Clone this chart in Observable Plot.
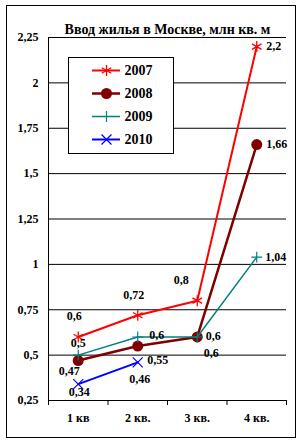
<!DOCTYPE html>
<html><head><meta charset="utf-8">
<script src="https://cdn.jsdelivr.net/npm/d3@7"></script>
<script src="https://cdn.jsdelivr.net/npm/@observablehq/plot@0.6"></script>
<style>
html,body{margin:0;padding:0;background:#fff;}
#wrap{position:relative;width:301px;height:446px;overflow:hidden;background:#fff;}
#border{position:absolute;left:6px;top:5px;width:290px;height:433px;border:1px solid #000;box-sizing:border-box;pointer-events:none;}
#legend{position:absolute;left:68px;top:57px;width:106px;height:97px;border:1px solid #000;box-sizing:border-box;background:#fff;}
svg{display:block;}
svg text{font-family:'Liberation Serif','Times New Roman',serif !important;}
</style></head>
<body><div id="wrap"><div id="chart"></div><div id="legend"></div><div id="border"></div></div>
<script>
const title = "Ввод жилья в Москве, млн кв. м";
const categories = ["1 кв", "2 кв.", "3 кв.", "4 кв."];
const years = ["2007", "2008", "2009", "2010"];
const v2007 = [0.6, 0.72, 0.8, 2.2];
const v2008 = [0.47, 0.55, 0.6, 1.66];
const v2009 = [0.5, 0.6, 0.6, 1.04];
const v2010 = [0.34, 0.46];
const yTicks = [0.25, 0.5, 0.75, 1, 1.25, 1.5, 1.75, 2, 2.25];

const fmt = d => String(d).replace(".", ",");
const FONT = "'Liberation Serif', 'Times New Roman', serif";

const styles = {
  "2007": {values: v2007, color: "#ff0000", width: 2, symbol: "asterisk", r: 5.2, sw: 1.3, fill: "none"},
  "2008": {values: v2008, color: "#800000", width: 2.5, symbol: "circle", r: 5.5, sw: 0, fill: "#800000"},
  "2009": {values: v2009, color: "#008080", width: 1.5, symbol: "plus", r: 3.6, sw: 1.2, fill: "none"},
  "2010": {values: v2010, color: "#0000ff", width: 2, symbol: "times", r: 4.6, sw: 1.2, fill: "none"}
};
// label offsets (layout only)
const labelOffsets = {
  "2007": [[-4, -21], [-4, -20], [-16, -21], [17, 0]],
  "2008": [[-9, 11], [20, 14], [14, 16], [20, 0]],
  "2009": [[0, -12], [19, -2], [16, -1], [19, 0]],
  "2010": [[1, 8], [2, 17]]
};

const rowsFor = y => styles[y].values.map((v, i) => ({year: y, q: i + 0.5, cat: categories[i], value: v}));
const T = {fontSize: 12, fontWeight: "bold", fill: "#000", fontFamily: FONT};

const marks = [];
marks.push(Plot.ruleY(yTicks, {stroke: "#000", strokeWidth: 1}));
marks.push(Plot.ruleX([0], {stroke: "#000", strokeWidth: 1}));
marks.push(Plot.text(yTicks, {x: 0, y: d => d, text: fmt, textAnchor: "end", dx: -10, ...T}));
marks.push(Plot.text(categories, {x: (d, i) => i + 0.5, y: 0.25, text: d => d, dy: 18, ...T}));
marks.push(Plot.text([title], {frameAnchor: "top", text: d => d, dx: 0, dy: -13.5, ...T, fontSize: 14}));
for (const y of years) {
  const s = styles[y];
  const rows = rowsFor(y);
  marks.push(Plot.line(rows, {x: "q", y: "value", stroke: s.color, strokeWidth: s.width}));
  marks.push(Plot.dot(rows, {x: "q", y: "value", symbol: s.symbol, r: s.r, stroke: s.sw ? s.color : "none", strokeWidth: s.sw, fill: s.fill}));
}
for (const y of years) {
  rowsFor(y).forEach((row, i) => {
    const [dx, dy] = labelOffsets[y][i];
    marks.push(Plot.text([row], {x: "q", y: "value", text: d => fmt(d.value), dx, dy, ...T}));
  });
}

const chart = Plot.plot({
  width: 301, height: 446,
  marginTop: 37, marginBottom: 46, marginLeft: 48, marginRight: 15,
  style: {fontFamily: FONT, fontWeight: "bold", fontSize: "12px", background: "transparent", overflow: "visible"},
  x: {type: "linear", domain: [0, 4], ticks: [0, 1, 2, 3, 4], tickFormat: () => "", tickSize: 5, line: false, label: null},
  y: {domain: [0.25, 2.25], axis: null},
  marks
});
document.getElementById("chart").appendChild(chart);

// legend
const legendMarks = [];
for (const y of years) {
  const s = styles[y];
  legendMarks.push(Plot.ruleY([y], {y: d => d, x1: 23, x2: 51, stroke: s.color, strokeWidth: s.width}));
  legendMarks.push(Plot.dot([y], {x: 37, y: d => d, symbol: s.symbol, r: s.r, stroke: s.sw ? s.color : "none", strokeWidth: s.sw, fill: s.fill}));
  legendMarks.push(Plot.text([y], {x: 55, y: d => d, text: d => d, textAnchor: "start", ...T, fontSize: 14}));
}
const legend = Plot.plot({
  width: 104, height: 95,
  marginTop: 11, marginBottom: 14, marginLeft: 0, marginRight: 0,
  style: {fontFamily: FONT, fontWeight: "bold", background: "transparent", overflow: "visible"},
  x: {type: "linear", domain: [0, 104], axis: null},
  y: {type: "point", domain: years, padding: 0, axis: null},
  marks: legendMarks
});
document.getElementById("legend").appendChild(legend);
</script>
</body></html>
